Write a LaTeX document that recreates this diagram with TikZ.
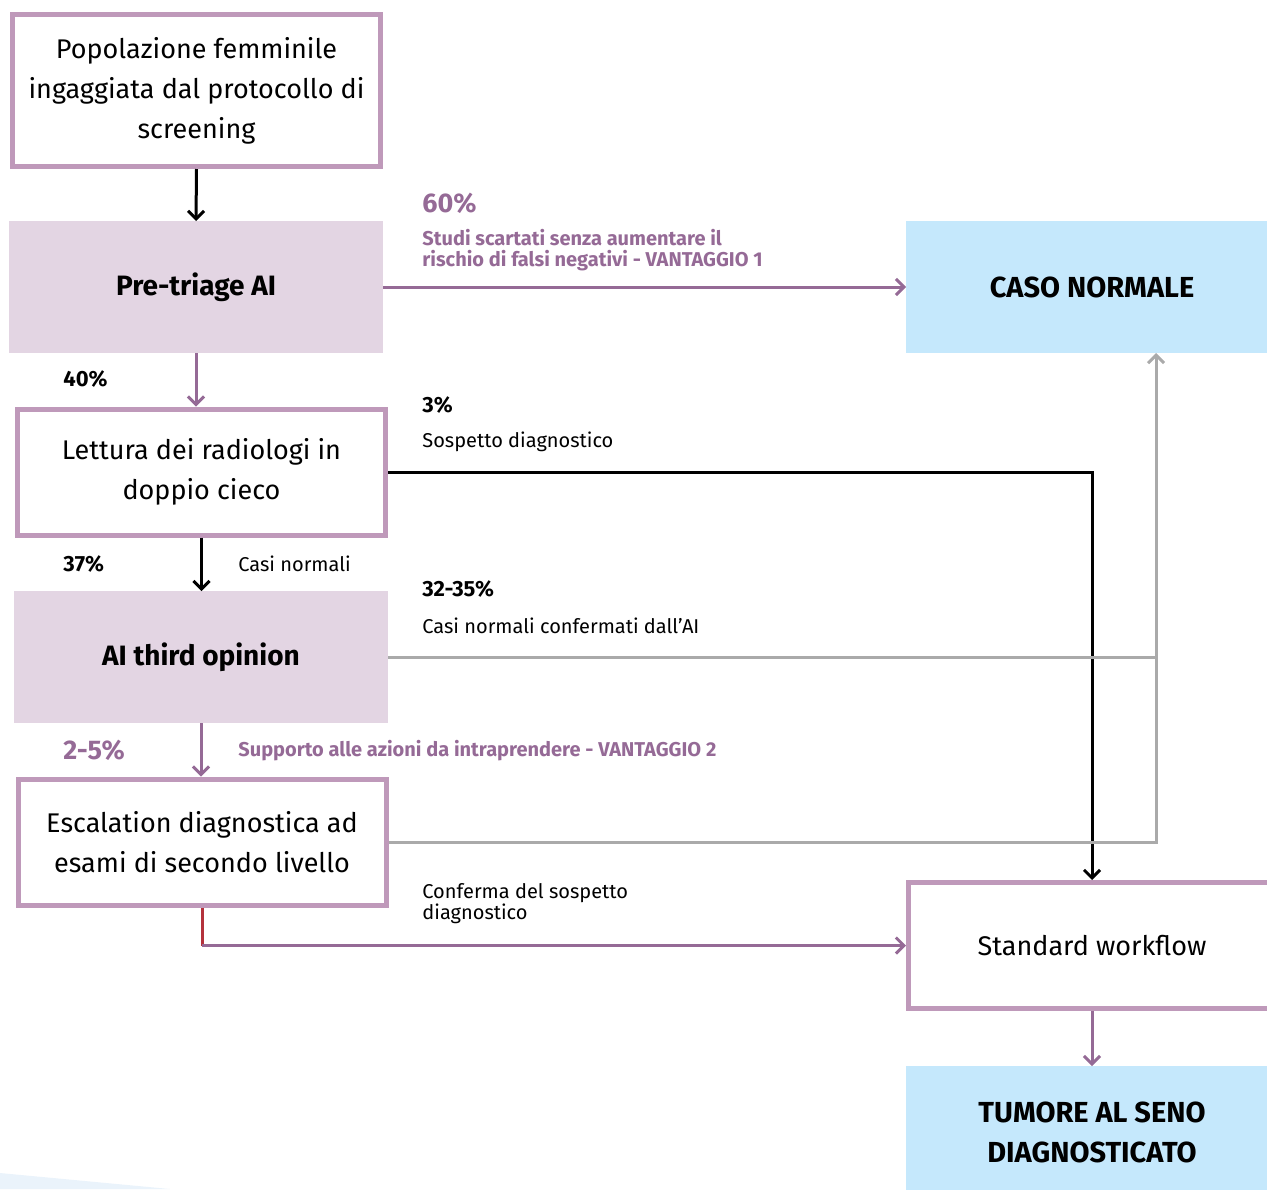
\documentclass[tikz,border=0pt]{standalone}
\usepackage{fontspec}
\setmainfont{Fira Sans}
\usetikzlibrary{arrows.meta,positioning}

\definecolor{boxedge}{RGB}{191,153,186}
\definecolor{aifill}{RGB}{227,213,227}
\definecolor{normfill}{RGB}{197,232,252}
\definecolor{viola}{RGB}{149,106,150}
\definecolor{linegray}{RGB}{170,170,170}
\definecolor{redline}{RGB}{180,50,60}
\definecolor{wedge}{RGB}{234,243,251}

\newcommand*{\xLabel}{422}
\newcommand*{\xPct}{63}

\tikzset{
  stepbox/.style={draw=boxedge, line width=2.5pt, fill=white, align=center,
    minimum width=184pt, minimum height=63pt, inner sep=0pt,
    font=\fontsize{13.5}{20}\selectfont},
  aibox/.style={fill=aifill, align=center, minimum width=187pt, minimum height=66pt,
    inner sep=0pt, outer sep=0pt, font=\bfseries\fontsize{14}{20}\selectfont},
  endbox/.style={aibox, fill=normfill, minimum width=186pt,
    font=\bfseries\fontsize{14.5}{20}\selectfont},
  pct/.style={anchor=west, inner sep=0pt, font=\bfseries\fontsize{11}{13}\selectfont},
  bigpct/.style={pct, text=viola, font=\bfseries\fontsize{13.5}{15}\selectfont},
  note/.style={anchor=west, inner sep=0pt, align=left, font=\fontsize{10}{10.5}\selectfont},
  vnote/.style={note, text=viola, font=\bfseries\fontsize{10}{10.5}\selectfont},
  flow/.style={-{Straight Barb[length=4pt,width=8pt]}, line width=1.5pt},
  blkflow/.style={flow, black},
  vflow/.style={flow, viola},
  gflow/.style={flow, linegray}
}

\begin{document}
\begin{tikzpicture}[x=0.5pt, y=-0.5pt]
  \clip (0,0) rectangle (1267,1189);
  \fill[wedge] (0,1173) -- (170,1189) -- (0,1189) -- cycle;

  % left column
  \node[stepbox, minimum height=76pt] (pop) at (196.5,90.5)
    {Popolazione femminile\\ingaggiata dal protocollo di\\screening};
  \node[aibox] (pretriage) at (196,287) {Pre-triage AI};
  \node[stepbox] (lettura) at (201.5,472) {Lettura dei radiologi in\\doppio cieco};
  \node[aibox] (third) at (201,657) {AI third opinion};
  \node[stepbox] (escal) at (202,842) {Escalation diagnostica ad\\esami di secondo livello};

  % right column
  \node[endbox] (normale) at (1092,287) {CASO NORMALE};
  \node[stepbox, minimum width=367pt/2] (workflow) at (1092,945.5) {Standard workflow};
  \node[endbox] (tumore) at (1092,1132) {TUMORE AL SENO\\DIAGNOSTICATO};

  % labels
  \node[bigpct] (p60) at (\xLabel,203) {60\%};
  \node[vnote] (vant1) at (\xLabel,250)
    {Studi scartati senza aumentare il\\rischio di falsi negativi - VANTAGGIO 1};
  \node[pct] (p40) at (\xPct,379) {40\%};
  \node[pct] (p3) at (\xLabel,405) {3\%};
  \node[note] (sospetto) at (\xLabel,442) {Sospetto diagnostico};
  \node[pct] (p37) at (\xPct,564) {37\%};
  \node[note] (casi) at (238,564) {Casi normali};
  \node[pct] (p3235) at (\xLabel,589) {32-35\%};
  \node[note] (confai) at (\xLabel,626) {Casi normali confermati dall’AI};
  \node[bigpct] (p25) at (\xPct,750) {2-5\%};
  \node[vnote] (vant2) at (238,751) {Supporto alle azioni da intraprendere - VANTAGGIO 2};
  \node[note] (conferma) at (\xLabel,904) {Conferma del sospetto\\diagnostico};

  % connectors
  \coordinate (merge) at (1156,657);
  \coordinate (bend) at (escal.south |- workflow.west);

  \draw[blkflow] (pop.south) -- (pretriage.north);
  \draw[vflow] (pretriage.east) -- (normale.west);
  \draw[vflow] (pretriage.south) -- (pretriage.south |- lettura.north);
  \draw[blkflow] (lettura.east) -| (workflow.north);
  \draw[blkflow] (lettura.south) -- (lettura.south |- third.north);
  \draw[gflow] (third.east) -- (merge) -- (merge |- normale.south);
  \draw[line width=1.5pt, linegray] (escal.east) -| (merge);
  \draw[vflow] (third.south) -- (third.south |- escal.north);
  \draw[line width=1.5pt, redline] (escal.south) -- (bend);
  \draw[vflow] (bend) -- (workflow.west);
  \draw[vflow] (workflow.south) -- (tumore.north);
\end{tikzpicture}
\end{document}
